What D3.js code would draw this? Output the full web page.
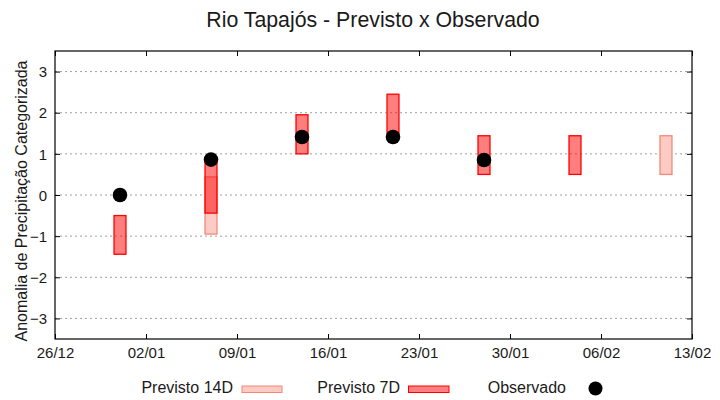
<!DOCTYPE html>
<html><head><meta charset="utf-8">
<script src="https://cdn.jsdelivr.net/npm/d3@7"></script>
<style>
body{margin:0;background:#fff;}
text{font-family:"Liberation Sans",Arial,sans-serif;fill:#1a1a1a;}
</style></head>
<body><svg id="c" width="720" height="400"></svg>
<script>
const title = "Rio Tapajós - Previsto x Observado";
const yLabel = "Anomalia de Precipitação Categorizada";
const xTickDates = ["2023-12-26","2024-01-02","2024-01-09","2024-01-16","2024-01-23","2024-01-30","2024-02-06","2024-02-13"];
const yTicks = [-3,-2,-1,0,1,2,3];
const dates14D = ["2024-01-07","2024-02-11"];
const lo14D = [-0.95, 0.5];
const hi14D = [0.44, 1.44];
const dates7D = ["2023-12-31","2024-01-07","2024-01-14","2024-01-21","2024-01-28","2024-02-04"];
const lo7D = [-1.44, -0.44, 1.0, 1.5, 0.5, 0.5];
const hi7D = [-0.5, 0.9, 1.95, 2.45, 1.44, 1.44];
const obsDates = ["2023-12-31","2024-01-07","2024-01-14","2024-01-21","2024-01-28"];
const obsValues = [0, 0.86, 1.41, 1.41, 0.85];
const legendLabels = ["Previsto 14D","Previsto 7D","Observado"];

const parse = d3.utcParse("%Y-%m-%d");
const svg = d3.select("#c");
const m = {l:55, r:692, t:51, b:339};
const x = d3.scaleUtc().domain([parse(xTickDates[0]), parse(xTickDates[xTickDates.length-1])]).range([m.l, m.r]);
const y = d3.scaleLinear().domain([-3.5, 3.5]).range([m.b, m.t]);
const DAY = 864e5, HALF = 0.46*DAY;

// grid
svg.append("g").selectAll("line").data(yTicks).join("line")
  .attr("x1", m.l).attr("x2", m.r).attr("y1", d=>y(d)).attr("y2", d=>y(d))
  .attr("stroke","#a0a0a0").attr("stroke-width",1).attr("stroke-dasharray","2,3");

// axes
const fmt = d3.utcFormat("%d/%m");
const tv = xTickDates.map(parse);
const gx = svg.append("g").attr("transform",`translate(0,${m.b})`)
  .call(d3.axisBottom(x).tickValues(tv).tickFormat(fmt).tickSize(-5).tickPadding(8));
const gxt = svg.append("g").attr("transform",`translate(0,${m.t})`)
  .call(d3.axisTop(x).tickValues(tv).tickFormat("").tickSize(-5));
const gy = svg.append("g").attr("transform",`translate(${m.l},0)`)
  .call(d3.axisLeft(y).tickValues(yTicks).tickFormat(d3.format("d")).tickSize(-5).tickPadding(8));
const gyr = svg.append("g").attr("transform",`translate(${m.r},0)`)
  .call(d3.axisRight(y).tickValues(yTicks).tickFormat("").tickSize(-5));
[gx,gxt,gy,gyr].forEach(g=>{
  g.select(".domain").remove();
  g.selectAll(".tick line").attr("stroke","#000");
  g.selectAll("text").attr("font-size",15).attr("fill","#1a1a1a").attr("font-family",'"Liberation Sans",Arial,sans-serif');
});
gy.selectAll("text").attr("dy","0.35em");

svg.append("rect").attr("x",m.l).attr("y",m.t).attr("width",m.r-m.l).attr("height",m.b-m.t)
  .attr("fill","none").attr("stroke","#000").attr("stroke-width",1.2);

// 14D boxes
const box14 = dates14D.map((d,i)=>({d:parse(d), lo:lo14D[i], hi:hi14D[i]}));
svg.append("g").selectAll("rect").data(box14).join("rect")
  .attr("x", d=>x(new Date(+d.d-HALF))).attr("width", d=>x(new Date(+d.d+HALF))-x(new Date(+d.d-HALF)))
  .attr("y", d=>y(d.hi)).attr("height", d=>y(d.lo)-y(d.hi))
  .attr("fill","#fbcbc4").attr("stroke","#f48878").attr("stroke-width",1.3);

// 7D boxes
const box7 = dates7D.map((d,i)=>({d:parse(d), lo:lo7D[i], hi:hi7D[i]}));
svg.append("g").selectAll("rect").data(box7).join("rect")
  .attr("x", d=>x(new Date(+d.d-HALF))).attr("width", d=>x(new Date(+d.d+HALF))-x(new Date(+d.d-HALF)))
  .attr("y", d=>y(d.hi)).attr("height", d=>y(d.lo)-y(d.hi))
  .attr("fill","rgba(255,0,0,0.5)").attr("stroke","#ff0000").attr("stroke-width",1.3);

// observed
const obs = obsDates.map((d,i)=>({d:parse(d), v:obsValues[i]}));
svg.append("g").selectAll("circle").data(obs).join("circle")
  .attr("cx", d=>x(d.d)).attr("cy", d=>y(d.v)).attr("r",7.3).attr("fill","#000");

// title
svg.append("text").attr("x",373).attr("y",27).attr("text-anchor","middle")
  .attr("font-size",21.3).text(title);
// y label
svg.append("text").attr("transform",`translate(27,${(m.t+m.b)/2+6}) rotate(-90)`)
  .attr("text-anchor","middle").attr("font-size",16).text(yLabel);

// legend
const lg = svg.append("g");
lg.append("text").attr("x",233).attr("y",393).attr("text-anchor","end").attr("font-size",16).text(legendLabels[0]);
lg.append("rect").attr("x",242).attr("y",386).attr("width",40).attr("height",6.5)
  .attr("fill","#fbcbc4").attr("stroke","#f48878").attr("stroke-width",1);
lg.append("text").attr("x",400).attr("y",393).attr("text-anchor","end").attr("font-size",16).text(legendLabels[1]);
lg.append("rect").attr("x",408.5).attr("y",386).attr("width",40.5).attr("height",6.5)
  .attr("fill","#ff8080").attr("stroke","#ff0000").attr("stroke-width",1);
lg.append("text").attr("x",566).attr("y",393).attr("text-anchor","end").attr("font-size",16).text(legendLabels[2]);
lg.append("circle").attr("cx",595.5).attr("cy",388.5).attr("r",7).attr("fill","#000");
</script></body></html>
